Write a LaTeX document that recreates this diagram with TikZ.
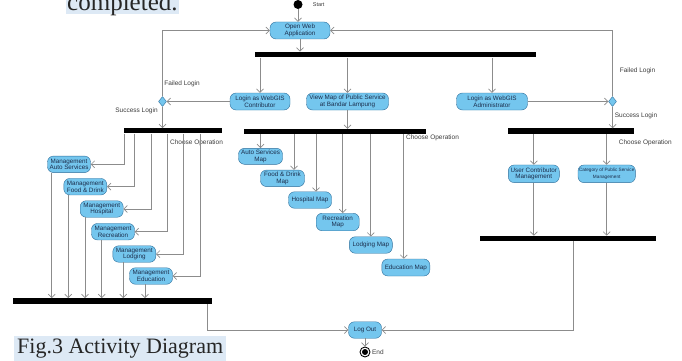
\documentclass[tikz,border=0pt]{standalone}
\usepackage{xcolor}
\usepackage{fontspec}
\setmainfont{Liberation Serif}
\newfontfamily\vpfont{Liberation Sans}
\usetikzlibrary{arrows.meta,calc,positioning,shapes.geometric}

\definecolor{actfill}{HTML}{74C6EE}
\definecolor{actedge}{HTML}{2E6E9A}
\definecolor{acttext}{HTML}{1C2E4C}
\definecolor{flowgray}{HTML}{8C8C8C}
\definecolor{labgray}{HTML}{3C3C3C}
\definecolor{marker}{HTML}{DDE9F5}

\tikzset{
  act/.style={draw=actedge, fill=actfill, text=acttext, rounded corners=6pt,
    align=center, inner sep=1pt, minimum height=16.5pt,
    font=\vpfont\fontsize{6.3}{6.6}\selectfont},
  bar/.style={fill=black, inner sep=0pt},
  choice/.style={diamond, draw=actedge, fill=actfill, inner sep=0pt,
    minimum width=8pt, minimum height=10pt},
  flow/.style={draw=flowgray, line width=0.7pt,
    -{Straight Barb[length=3.5pt,width=7pt]}},
  tag/.style={text=labgray, inner sep=0pt, font=\vpfont\fontsize{6.5}{7}\selectfont},
}

\begin{document}
\begin{tikzpicture}[x=1pt, y=-1pt]
    \useasboundingbox (0,0) rectangle (682,361);
    \clip (0,0) rectangle (682,361);

    \node[anchor=base west, fill=marker, text=black!85, inner xsep=1pt, inner ysep=0pt,
      text height=20pt, text depth=3.5pt, font=\fontsize{25}{27}\selectfont]
      (t0) at (66,10.5) {completed.};
    \node[anchor=base west, fill=marker, text=black!85, inner xsep=3pt, inner ysep=0pt,
      text height=17pt, text depth=9pt, font=\fontsize{22}{24}\selectfont]
      (t1) at (14,353) {Fig.3 Activity Diagram};

    \node[circle, fill=black, inner sep=0pt, minimum size=9pt] (s0) at (298,4.5) {};
    \node[act, minimum width=60pt, minimum height=17pt] (open) at (300,30.5) {Open Web\\Application};
    \node[bar, minimum width=281pt, minimum height=5.5pt] (f1) at (395.5,54.6) {};

    \node[act, minimum width=60pt, minimum height=17pt] (a1) at (260,101.5) {Login as WebGIS\\Contributor};
    \node[act, minimum width=82pt, minimum height=17pt] (a2) at (347.5,101.5) {View Map of Public Service\\at Bandar Lampung};
    \node[act, minimum width=71pt, minimum height=17pt] (a3) at (492,101.5) {Login as WebGIS\\Administrator};
    \node[choice] (d1) at (162.5,101.5) {};
    \node[choice] (d2) at (612.5,101.5) {};

    \node[bar, minimum width=98pt, minimum height=5pt] (f2) at (173,130.8) {};
    \node[bar, minimum width=182pt, minimum height=5pt] (f3) at (335,131.5) {};
    \node[bar, minimum width=126pt, minimum height=5.5pt] (f4) at (571,131.2) {};

    \node[act, minimum width=43pt] (m1) at (69,164.3) {Management\\Auto Services};
    \node[act, minimum width=43pt] (m2) at (85.3,186.7) {Management\\Food \& Drink};
    \node[act, minimum width=43pt] (m3) at (101.7,209) {Management\\Hospital};
    \node[act, minimum width=43pt] (m4) at (113,231.7) {Management\\Recreation};
    \node[act, minimum width=43pt] (m5) at (134.3,254) {Management\\Lodging};
    \node[act, minimum width=43pt] (m6) at (151,276) {Management\\Education};

    \node[act, minimum width=44pt, minimum height=16pt] (p1) at (260.5,156.3) {Auto Services\\Map};
    \node[act, minimum width=44pt] (p2) at (282.5,178.3) {Food \& Drink\\Map};
    \node[act, minimum width=43pt] (p3) at (310,200) {Hospital Map};
    \node[act, minimum width=43pt, minimum height=17.5pt] (p4) at (337.7,222) {Recreation\\Map};
    \node[act, minimum width=43pt] (p5) at (370.8,245) {Lodging Map};
    \node[act, minimum width=48pt, minimum height=17pt] (p6) at (405.8,267.5) {Education Map};

    \node[act, minimum width=51pt, minimum height=17.7pt] (u1) at (533.8,173.8) {User Contributor\\Management};
    \node[act, minimum width=55pt, minimum height=17.7pt, font=\vpfont\fontsize{4.7}{6.3}\selectfont]
      (u2) at (606.7,173.8) {Category of Public Service\\Management};

    \node[bar, minimum width=199pt, minimum height=5.7pt] (j1) at (112.5,301.2) {};
    \node[bar, minimum width=176pt, minimum height=5pt] (j2) at (568,238.4) {};

    \node[act, minimum width=33pt] (out) at (365,330) {Log Out};
    \node[circle, draw=black, line width=0.9pt, fill=white, inner sep=0pt, minimum size=10pt] (e0) at (365,352) {};
    \node[circle, fill=black, inner sep=0pt, minimum size=6pt] (e1) at (e0) {};

    \node[tag, right=10pt of s0, font=\vpfont\fontsize{5.5}{6}\selectfont] (l1) {Start};
    \node[tag, right=1.5pt of e0] (l2) {End};
    \node[tag] (l3) at ($(d1)+(19.5,-17.7)$) {Failed Login};
    \node[tag] (l4) at ($(d1)+(-26,9.5)$) {Success Login};
    \node[tag] (l5) at ($(d2)+(25,-31)$) {Failed Login};
    \node[tag] (l6) at ($(d2)+(23.5,14.5)$) {Success Login};
    \node[tag] (l7) at ($(f2)+(23.5,12)$) {Choose Operation};
    \node[tag] (l8) at ($(f3)+(97.5,6.8)$) {Choose Operation};
    \node[tag] (l9) at ($(f4)+(74.3,11.5)$) {Choose Operation};

    \draw[flow] (s0) -- (s0 |- open.north);
    \draw[flow] (open) -- (open |- f1.north);
    \draw[flow] (f1.south -| a1) -- (a1);
    \draw[flow] (f1.south -| a2) -- (a2);
    \draw[flow] (f1.south -| a3) -- (a3);
    \draw[flow] (a1) -- (d1);
    \draw[flow] (a3) -- (d2);
    \draw[flow] (d1) |- (open);
    \draw[flow] (d2) |- (open);
    \draw[flow] (d1) -- (d1 |- f2.north);
    \draw[flow] (d2) -- (d2 |- f4.north);
    \draw[flow] (a2) -- (a2 |- f3.north);

    \draw[flow] ([xshift=0.5pt]f2.south west) |- (m1);
    \draw[flow] ([xshift=11pt]f2.south west) |- (m2);
    \draw[flow] ([xshift=27.5pt]f2.south west) |- (m3);
    \draw[flow] ([xshift=43.5pt]f2.south west) |- (m4);
    \draw[flow] ([xshift=60pt]f2.south west) |- (m5);
    \draw[flow] ([xshift=77pt]f2.south west) |- (m6);

    \draw[flow] ([xshift=-17.3pt]m1.south) -- ([xshift=-17.3pt]m1.south |- j1.north);
    \draw[flow] ([xshift=-17pt]m2.south) -- ([xshift=-17pt]m2.south |- j1.north);
    \draw[flow] ([xshift=-16.7pt]m3.south) -- ([xshift=-16.7pt]m3.south |- j1.north);
    \draw[flow] ([xshift=-11.3pt]m4.south) -- ([xshift=-11.3pt]m4.south |- j1.north);
    \draw[flow] ([xshift=-11pt]m5.south) -- ([xshift=-11pt]m5.south |- j1.north);
    \draw[flow] ([xshift=-6pt]m6.south) -- ([xshift=-6pt]m6.south |- j1.north);

    \draw[flow] (f3.south -| p1) -- (p1);
    \draw[flow] ([xshift=11.5pt]p2.north |- f3.south) -- ([xshift=11.5pt]p2.north);
    \draw[flow] ([xshift=6pt]p3.north |- f3.south) -- ([xshift=6pt]p3.north);
    \draw[flow] ([xshift=5pt]p4.north |- f3.south) -- ([xshift=5pt]p4.north);
    \draw[flow] (f3.south -| p5) -- (p5);
    \draw[flow] ([xshift=-2pt]p6.north |- f3.south) -- ([xshift=-2pt]p6.north);

    \draw[flow] (f4.south -| u1) -- (u1);
    \draw[flow] (f4.south -| u2) -- (u2);
    \draw[flow] (u1) -- (u1 |- j2.north);
    \draw[flow] (u2) -- (u2 |- j2.north);

    \draw[flow] ([xshift=-5pt]j1.south east) |- (out);
    \draw[flow] ([xshift=5.3pt]j2.south) |- (out);
    \draw[flow] (out) -- (e0);
\end{tikzpicture}
\end{document}
